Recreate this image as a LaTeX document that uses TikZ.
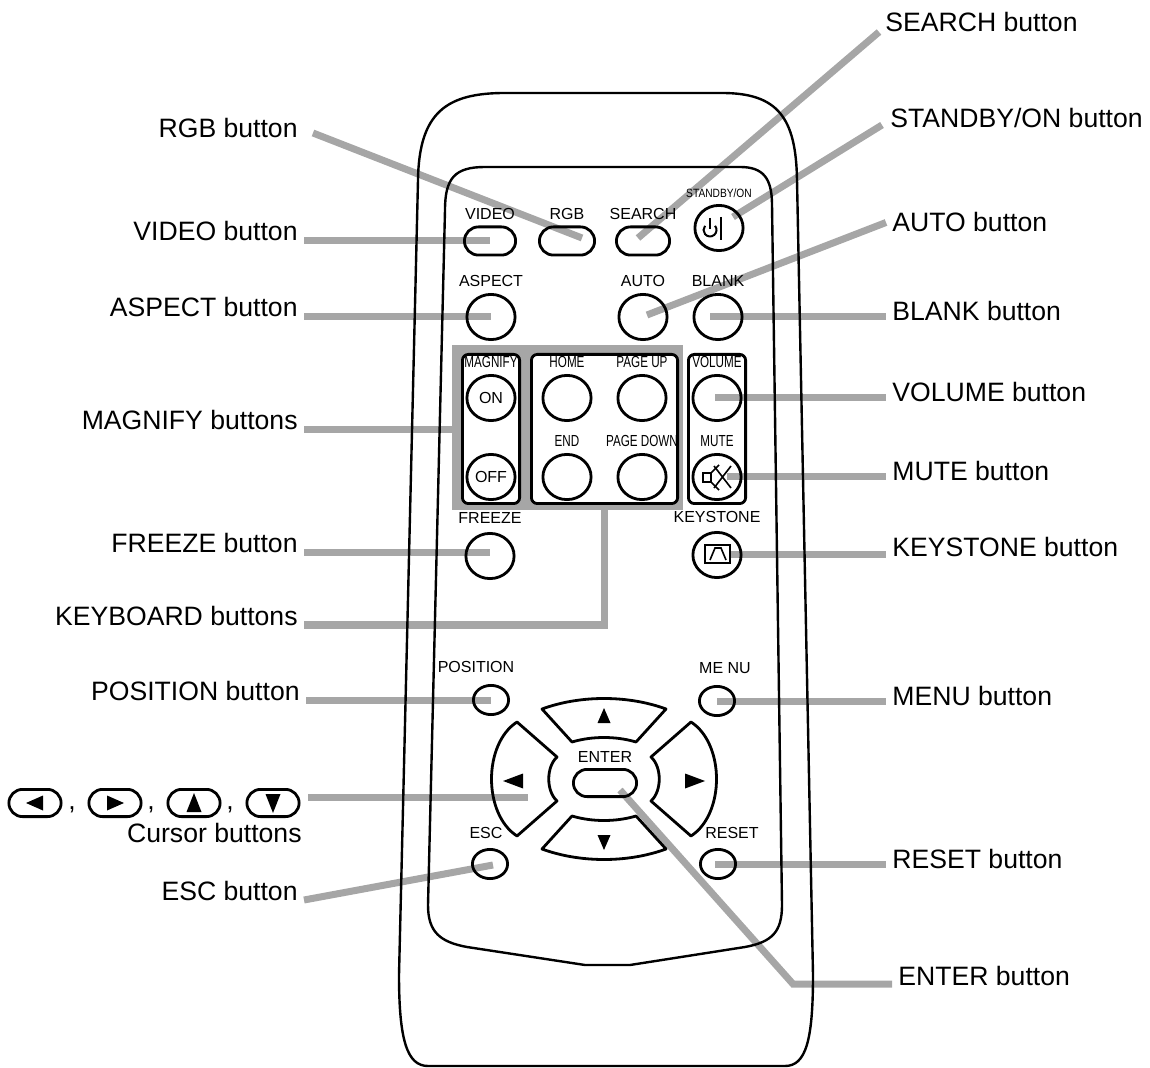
\documentclass[tikz,border=0pt]{standalone}
\usepackage{fontspec}
\setmainfont{Liberation Sans}
\usepackage{graphicx}
\usepackage{tikz}
\usetikzlibrary{positioning, shapes.geometric, shapes.misc}
\definecolor{leadgray}{RGB}{166, 166, 166}
\pgfdeclarelayer{back}
\pgfsetlayers{back,main}
\newcommand{\narrowtxt}[1]{\scalebox{0.73}[1]{#1}}
\tikzset{
  shell/.style = {line width=1.2pt, line join=round},
  roundbtn/.style = {ellipse, draw, line width=1.4pt, inner sep=0pt, minimum width=24.1pt, minimum height=22.6pt},
  smallbtn/.style = {ellipse, draw, line width=1.4pt, inner sep=0pt, minimum width=17.6pt, minimum height=14.6pt},
  pillbtn/.style = {rounded rectangle, draw, line width=1.4pt, inner sep=0pt, minimum height=14.1pt},
  framebox/.style = {draw, line width=1.4pt, rounded corners=3pt, inner sep=0pt, minimum width=28.6pt, minimum height=74.6pt},
  keylbl/.style = {inner sep=0pt, font=\fontsize{8}{9}\selectfont},
  calllbl/.style = {inner xsep=3pt, inner ysep=1pt, font=\fontsize{13.3}{16}\selectfont},
  leader/.style = {draw=leadgray, line width=3.5pt},
  padkey/.style = {draw, line width=1.4pt, line join=round},
}

\begin{document}
\begin{tikzpicture}[x=0.5pt, y=-0.5pt]
\useasboundingbox (0,0) rectangle (1150,1068);

% shell and key panel
\draw[shell] (418,180) .. controls (419,112) and (447,93) .. (505,93) -- (722,93) .. controls (778,93) and (796,118) .. (797,180) -- (813,975) .. controls (813,1040) and (806,1066) .. (785,1066) -- (428,1066) .. controls (407,1066) and (399,1040) .. (399,975) -- cycle;
\draw[shell] (445,210) .. controls (445,178) and (455,167) .. (485,167) -- (740,167) .. controls (763,167) and (772,178) .. (772,205) -- (782,905) .. controls (782,932) and (772,942) .. (745,947) -- (630,965) -- (585,965) -- (467,947) .. controls (440,942) and (428,932) .. (428,905) -- cycle;

% top rows
\node [pillbtn, minimum width=25.6pt] (bVideo) at (490,241) {};
\node [pillbtn, minimum width=27.6pt] (bRGB) at (567,241) {};
\node [pillbtn, minimum width=26.6pt] (bSearch) at (643,241) {};
\node [roundbtn] (bStandby) at (719,228) {};
\node [keylbl, above=2.8pt of bVideo] (tVideo) {VIDEO};
\node [keylbl, above=2.8pt of bRGB] (tRGB) {RGB};
\node [keylbl, above=2.8pt of bSearch] (tSearch) {SEARCH};
\node [keylbl, above=3pt of bStandby, font=\fontsize{6}{7}\selectfont] (tStandby) {\scalebox{0.85}[1]{STANDBY/ON}};
\node [roundbtn] (bAspect) at (491,317) {};
\node [roundbtn] (bAuto) at (643,317) {};
\node [roundbtn] (bBlank) at (718,317) {};
\node [keylbl, above=2.8pt of bAspect] (tAspect) {ASPECT};
\node [keylbl, above=2.8pt of bAuto] (tAuto) {AUTO};
\node [keylbl, above=2.8pt of bBlank] (tBlank) {BLANK};

% magnify, keyboard and volume block
\node [fill=leadgray, inner sep=0pt, minimum width=115.5pt, minimum height=82.5pt] (kbBox) at (567.5,427.5) {};
\node [framebox, fill=white] (fMagnify) at (491,429) {};
\node [framebox, fill=white, minimum width=73.1pt] (fKeyboard) at (604.5,429) {};
\node [framebox] (fVolume) at (717,429) {};
\node [roundbtn, font=\fontsize{8}{9}\selectfont] (bOn) at (491,398) {ON};
\node [roundbtn, font=\fontsize{8}{9}\selectfont] (bOff) at (491,477) {OFF};
\node [roundbtn] (bHome) at (567,398) {};
\node [roundbtn] (bPageUp) at (642,398) {};
\node [roundbtn] (bEnd) at (567,477) {};
\node [roundbtn] (bPageDown) at (642,477) {};
\node [roundbtn] (bVolume) at (717,398) {};
\node [roundbtn] (bMute) at (717,477) {};
\node [keylbl, above=2.8pt of bOn] (tMagnify) {\narrowtxt{MAGNIFY}};
\node [keylbl, above=2.8pt of bHome] (tHome) {\narrowtxt{HOME}};
\node [keylbl, above=2.8pt of bPageUp] (tPageUp) {\narrowtxt{PAGE UP}};
\node [keylbl, above=2.8pt of bEnd] (tEnd) {\narrowtxt{END}};
\node [keylbl, above=2.8pt of bPageDown] (tPageDown) {\narrowtxt{PAGE DOWN}};
\node [keylbl, above=2.8pt of bVolume] (tVolume) {\narrowtxt{VOLUME}};
\node [keylbl, above=2.8pt of bMute] (tMute) {\narrowtxt{MUTE}};

\node [roundbtn] (bFreeze) at (490,556) {};
\node [roundbtn] (bKeystone) at (717,555) {};
\node [keylbl, above=3.8pt of bFreeze] (tFreeze) {FREEZE};
\node [keylbl, above=3.8pt of bKeystone] (tKeystone) {KEYSTONE};

% symbols
\begin{scope}[shift={(bStandby.center)}, line width=1pt]
\draw (-9,-10) -- (-9,1);
\draw (-4,-2.2) arc[start angle=-40, end angle=220, radius=6.5];
\draw (2,-11) -- (2,12);
\end{scope}
\begin{scope}[shift={(bMute.center)}, line width=0.8pt]
\draw (-14,-4) rectangle (-6,5);
\draw (-6,-4) -- (2,-12) (-6,5) -- (2,13);
\draw (-3,-11) -- (14,11) (14,-11) -- (-3,11);
\end{scope}
\begin{scope}[shift={(bKeystone.center)}, line width=0.8pt]
\draw (-12,-10) rectangle (13,8);
\draw (-7,5) -- (-2,-7) -- (4,-7) -- (9,5);
\end{scope}

% lower buttons
\node [smallbtn] (bPosition) at (491,700) {};
\node [smallbtn] (bMenu) at (717,701) {};
\node [smallbtn] (bEsc) at (490,864) {};
\node [smallbtn] (bReset) at (718,864) {};
\node [keylbl, above=5.3pt of bPosition, xshift=-7.5pt] (tPosition) {POSITION};
\node [keylbl, above=5.5pt of bMenu, xshift=4pt] (tMenu) {ME NU};
\node [keylbl, above=4.3pt of bEsc, xshift=-2pt] (tEsc) {ESC};
\node [keylbl, above=4.3pt of bReset, xshift=7pt] (tReset) {RESET};

% cursor pad
\begin{scope}[shift={(604,779)}]
\draw[padkey] (-62,-70) .. controls (-24,-84) and (24,-84) .. (62,-70) -- (32,-37) .. controls (12,-43) and (-12,-43) .. (-32,-37) -- cycle;
\draw[padkey] (-62,70) .. controls (-24,84) and (24,84) .. (62,70) -- (32,37) .. controls (12,43) and (-12,43) .. (-32,37) -- cycle;
\draw[padkey] (-87,-57) -- (-47,-22) .. controls (-58,-12) and (-58,12) .. (-47,22) -- (-87,57) .. controls (-121,35) and (-121,-35) .. (-87,-57) -- cycle;
\draw[padkey] (87,-57) -- (47,-22) .. controls (58,-12) and (58,12) .. (47,22) -- (87,57) .. controls (121,35) and (121,-35) .. (87,-57) -- cycle;
\fill (0,-71) -- (-6.5,-56) -- (6.5,-56) -- cycle;
\fill (0,71) -- (-6.5,56) -- (6.5,56) -- cycle;
\fill (-101,2) -- (-81,-5.5) -- (-81,9.5) -- cycle;
\fill (101,2) -- (81,-5.5) -- (81,9.5) -- cycle;
\end{scope}
\node [pillbtn, minimum width=31.6pt, minimum height=13.6pt] (bEnter) at (605,783) {};
\node [keylbl, above=2.8pt of bEnter] (tEnter) {ENTER};

\coordinate (cursorTip) at (528,797);
\coordinate (enterBend) at (793,984);

% callout texts, left
\node [calllbl, anchor=base east] (lRGB) at (304,138) {RGB button};
\node [calllbl, anchor=base east] (lVideo) at (304,241) {VIDEO button};
\node [calllbl, anchor=base east] (lAspect) at (304,317) {ASPECT button};
\node [calllbl, anchor=base east] (lMagnify) at (304,430) {MAGNIFY buttons};
\node [calllbl, anchor=base east] (lFreeze) at (304,553) {FREEZE button};
\node [calllbl, anchor=base east] (lKeyboard) at (304,625) {KEYBOARD buttons};
\node [calllbl, anchor=base east] (lPosition) at (306,700) {POSITION button};
\node [calllbl, anchor=base east] (lCursor) at (308,842) {Cursor buttons};
\node [calllbl, anchor=base east] (lEsc) at (304,900) {ESC button};

% cursor icons
\node [pillbtn, minimum width=26.1pt, minimum height=13.6pt] (cIconL) at (35,803) {};
\node [pillbtn, minimum width=26.1pt, minimum height=13.6pt] (cIconR) at (115,803) {};
\node [pillbtn, minimum width=26.1pt, minimum height=13.6pt] (cIconU) at (194,803) {};
\node [pillbtn, minimum width=26.1pt, minimum height=13.6pt] (cIconD) at (273,803) {};
\fill ([shift={(-9,0)}]cIconL.center) -- ++(17,-7.5) -- ++(0,15) -- cycle;
\fill ([shift={(9,0)}]cIconR.center) -- ++(-17,-7.5) -- ++(0,15) -- cycle;
\fill ([shift={(0,-10)}]cIconU.center) -- ++(7.5,19) -- ++(-15,0) -- cycle;
\fill ([shift={(0,10)}]cIconD.center) -- ++(7.5,-19) -- ++(-15,0) -- cycle;
\node [calllbl, inner sep=0pt, anchor=base] (comma1) at (72,809) {,};
\node [calllbl, inner sep=0pt, anchor=base] (comma2) at (151,809) {,};
\node [calllbl, inner sep=0pt, anchor=base] (comma3) at (230,809) {,};

% callout texts, right
\node [calllbl, anchor=base west] (lSearch) at (879,32) {SEARCH button};
\node [calllbl, anchor=base west] (lStandby) at (884,128) {STANDBY/ON button};
\node [calllbl, anchor=base west] (lAuto) at (886,232) {AUTO button};
\node [calllbl, anchor=base west] (lBlank) at (886,321) {BLANK button};
\node [calllbl, anchor=base west] (lVolume) at (886,402) {VOLUME button};
\node [calllbl, anchor=base west] (lMute) at (886,481) {MUTE button};
\node [calllbl, anchor=base west] (lKeystone) at (886,557) {KEYSTONE button};
\node [calllbl, anchor=base west] (lMenu) at (886,705) {MENU button};
\node [calllbl, anchor=base west] (lReset) at (886,868) {RESET button};
\node [calllbl, anchor=base west] (lEnter) at (892,985) {ENTER button};

% leader lines
\begin{pgfonlayer}{back}
\draw[leader] ([shift={(9,-5)}]lRGB.base east) -- ([shift={(15,-3)}]bRGB.center);
\draw[leader] (lVideo.base east) -- (lVideo.base east -| bVideo.center);
\draw[leader] (lAspect.base east) -- (lAspect.base east -| bAspect.center);
\draw[leader] (lMagnify.base east) -- (lMagnify.base east -| kbBox.west);
\draw[leader] (lFreeze.base east) -- (lFreeze.base east -| bFreeze.center);
\draw[leader] (lKeyboard.base east) -| (fKeyboard.south);
\draw[leader] (lPosition.base east) -- (lPosition.base east -| bPosition.center);
\draw[leader] (cursorTip -| lCursor.base east) -- (cursorTip);
\draw[leader] (lEsc.base east) -- ([shift={(3,1)}]bEsc.center);
\draw[leader] ([shift={(-5,-3)}]bSearch.center) -- (lSearch.base west);
\draw[leader] ([shift={(14,-11)}]bStandby.center) -- ([shift={(-2,-3)}]lStandby.base west);
\draw[leader] ([shift={(4,-2)}]bAuto.center) -- (lAuto.west);
\draw[leader] ([xshift=-4pt]bBlank.center) -- (bBlank.center -| lBlank.west);
\draw[leader] ([xshift=-1pt]bVolume.center) -- (bVolume.center -| lVolume.west);
\draw[leader] ([xshift=5pt]bMute.center) -- (bMute.center -| lMute.west);
\draw[leader] ([xshift=6.5pt]bKeystone.center) -- (bKeystone.center -| lKeystone.west);
\draw[leader] (bMenu.center) -- (bMenu.center -| lMenu.west);
\draw[leader] ([xshift=-1.5pt]bReset.center) -- (bReset.center -| lReset.west);
\draw[leader] ([shift={(15,7)}]bEnter.center) -- (enterBend) -- (enterBend -| lEnter.base west);
\end{pgfonlayer}
\end{tikzpicture}
\end{document}
